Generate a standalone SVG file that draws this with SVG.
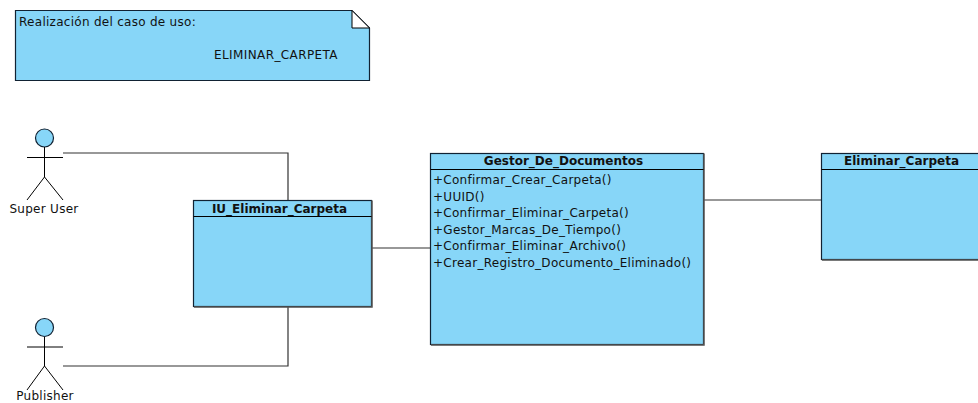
<svg xmlns="http://www.w3.org/2000/svg" width="978" height="403" viewBox="0 0 978 403">
<style>
text{font-family:"DejaVu Sans",sans-serif;font-size:12px;fill:#111;letter-spacing:.28px}
.t{font-weight:bold;text-anchor:middle;letter-spacing:0}
.c{text-anchor:middle}
.box{fill:#87d6f8;stroke:#123;stroke-width:1.2}
.shadow{fill:none;stroke:#555;stroke-width:1.5}
.ln{fill:none;stroke:#000;stroke-width:1}
.conn{fill:none;stroke:#333;stroke-width:1.2}
.fold{fill:#fff;stroke:#000;stroke-width:1}
</style>
<g id="connectors">
<path class="conn" d="M63 153H288V200"/>
<path class="conn" d="M63 366H288V307"/>
<path class="conn" d="M372 248H430"/>
<path class="conn" d="M704 200H821"/>
</g>
<g id="note">
<path class="box" d="M15.500 10.500H352L369.500 28V80.500H15.500Z"/>
<path class="fold" d="M352 10.500L369.500 28H352Z"/>
<text x="19" y="26">Realización del caso de uso:</text>
<text x="214" y="59" style="letter-spacing:.4px">ELIMINAR_CARPETA</text>
</g>
<g id="actor-super-user">
<circle class="box" cx="44.500" cy="138" r="9"/>
<path class="ln" d="M44.500 147V177M27 157.500H63M27 200L44.500 177L63 200"/>
<text class="c" x="44" y="212.500">Super User</text>
</g>
<g id="actor-publisher">
<circle class="box" cx="44.500" cy="327.500" r="9"/>
<path class="ln" d="M44.500 337V366M27 347H63M27 390L44.500 366L63 390"/>
<text class="c" x="45" y="400">Publisher</text>
</g>
<g id="iu-eliminar-carpeta">
<rect class="box" x="193.500" y="200.500" width="178" height="106"/>
<path class="shadow" d="M194 307H372V200.500"/>
<path class="ln" d="M193.500 216.500H371.500"/>
<text class="t" x="279.500" y="212.500">IU_Eliminar_Carpeta</text>
</g>
<g id="gestor-de-documentos">
<rect class="box" x="430.500" y="153.500" width="273" height="191"/>
<path class="shadow" d="M431 345H704V153.500"/>
<path class="ln" d="M430.500 169.500H703.500"/>
<text class="t" x="563.500" y="165">Gestor_De_Documentos</text>
<text x="433" y="184">+Confirmar_Crear_Carpeta()</text>
<text x="433" y="201">+UUID()</text>
<text x="433" y="217">+Confirmar_Eliminar_Carpeta()</text>
<text x="433" y="233.500">+Gestor_Marcas_De_Tiempo()</text>
<text x="433" y="250">+Confirmar_Eliminar_Archivo()</text>
<text x="433" y="266.500">+Crear_Registro_Documento_Eliminado()</text>
</g>
<g id="eliminar-carpeta">
<rect class="box" x="821.500" y="153.500" width="160" height="106"/>
<path class="shadow" d="M822 260H982"/>
<path class="ln" d="M821.500 169.500H982"/>
<text class="t" x="901.500" y="165">Eliminar_Carpeta</text>
</g>
</svg>
